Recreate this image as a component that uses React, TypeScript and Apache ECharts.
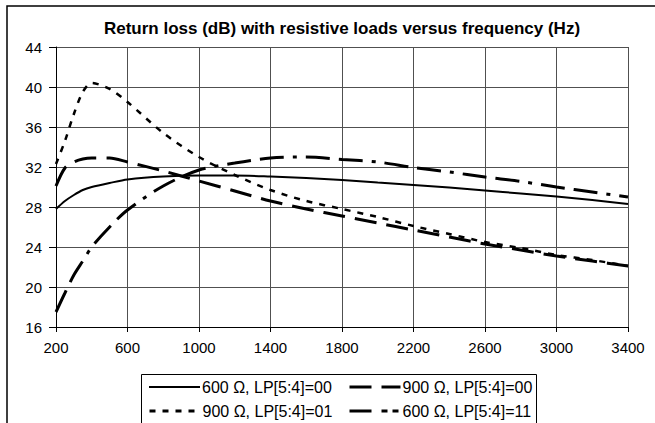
import React, { useEffect, useRef } from "react";
import * as echarts from "echarts";

const TITLE = "Return loss (dB) with resistive loads versus frequency (Hz)";

const freqs = [200, 250, 300, 350, 400, 500, 600, 800, 1000, 1200, 1400, 1600, 1800, 2000, 2200, 2400, 2600, 2800, 3000, 3200, 3400];

const seriesNames = [
  "600 Ω, LP[5:4]=00",
  "900 Ω, LP[5:4]=00",
  "900 Ω, LP[5:4]=01",
  "600 Ω, LP[5:4]=11",
];

const rl600_00 = [27.8, 28.6, 29.2, 29.7, 30.0, 30.4, 30.75, 31.05, 31.15, 31.15, 31.05, 30.9, 30.7, 30.45, 30.2, 29.95, 29.65, 29.35, 29.05, 28.7, 28.3];
const rl900_00 = [30.1, 31.9, 32.5, 32.8, 32.9, 32.9, 32.5, 31.6, 30.6, 29.6, 28.6, 27.8, 27.1, 26.4, 25.7, 25.0, 24.3, 23.7, 23.1, 22.6, 22.1];
const rl900_01 = [32.3, 34.6, 37.3, 39.5, 40.4, 39.8, 38.5, 35.4, 33.0, 31.2, 29.7, 28.6, 27.8, 27.0, 26.1, 25.3, 24.5, 23.9, 23.2, 22.7, 22.1];
const rl600_11 = [17.5, 19.4, 21.2, 22.6, 24.0, 26.0, 27.7, 30.1, 31.7, 32.4, 32.9, 33.0, 32.75, 32.5, 31.95, 31.5, 31.0, 30.55, 30.0, 29.5, 29.0];

const xTicks = [200, 600, 1000, 1400, 1800, 2200, 2600, 3000, 3400];
const yTicks = [16, 20, 24, 28, 32, 36, 40, 44];

const X_OFFSET = xTicks[0];
const FONT = "Liberation Sans, Arial, sans-serif";

export default function App() {
  const ref = useRef<HTMLDivElement>(null);

  useEffect(() => {
    if (!ref.current) return;
    const chart = echarts.init(ref.current, undefined, { renderer: "svg" });

    const allValues = [rl600_00, rl900_00, rl900_01, rl600_11];
    const styles: any[] = [
      { width: 2, type: "solid" },
      { width: 3, type: [22, 10] },
      { width: 2.5, type: [6, 7] },
      { width: 3, type: [24, 9, 24, 9, 4, 9] },
    ];
    const legendStyles: any[] = [
      { width: 2, type: "solid" },
      { width: 3, type: [22, 10] },
      { width: 3, type: [6, 7] },
      { width: 3, type: [22, 10, 6, 5, 6, 10] },
    ];

    const series = allValues.map((vals, i) => ({
      name: seriesNames[i],
      type: "line",
      data: freqs.map((f, j) => [f - X_OFFSET, vals[j]]),
      symbol: "none",
      smooth: 0.3,
      lineStyle: { color: "#000", ...styles[i] },
      itemStyle: { color: "#000" },
      z: 3,
    }));

    const legendPos = [
      { left: 148, top: 378 },
      { left: 348, top: 378 },
      { left: 148, top: 402 },
      { left: 348, top: 402 },
    ];

    const legends = seriesNames.map((n, i) => ({
      data: [n],
      left: legendPos[i].left,
      top: legendPos[i].top,
      padding: 0,
      itemWidth: 51,
      itemHeight: 18,
      itemGap: 0,
      selectedMode: false,
      itemStyle: { color: "rgba(0,0,0,0)", borderWidth: 0, opacity: 0 },
      lineStyle: { color: "#000", ...legendStyles[i] },
      textStyle: {
        fontFamily: FONT,
        fontSize: 16,
        lineHeight: 18,
        color: "#000",
        padding: [0, 0, 0, -3],
      },
    }));

    chart.setOption({
      animation: false,
      backgroundColor: "#fff",
      title: {
        text: TITLE,
        left: 337,
        textAlign: "center",
        top: 15,
        textStyle: { fontFamily: FONT, fontSize: 17, fontWeight: "bold", color: "#000" },
      },
      legend: legends,
      grid: { left: 56, top: 47, width: 572, height: 280, containLabel: false },
      xAxis: {
        type: "value",
        min: 0,
        max: xTicks[xTicks.length - 1] - X_OFFSET,
        interval: xTicks[1] - xTicks[0],
        axisLine: { show: true, lineStyle: { color: "#000", width: 1 } },
        axisTick: { show: true, length: 5, lineStyle: { color: "#000" } },
        axisLabel: {
          margin: 13,
          fontFamily: FONT,
          fontSize: 15,
          color: "#000",
          formatter: (v: number) => String(v + X_OFFSET),
        },
        splitLine: { show: true, lineStyle: { color: "#505050", width: 1 } },
      },
      yAxis: {
        type: "value",
        min: yTicks[0],
        max: yTicks[yTicks.length - 1],
        interval: yTicks[1] - yTicks[0],
        axisLine: { show: true, lineStyle: { color: "#000", width: 1 } },
        axisTick: { show: true, length: 7, lineStyle: { color: "#000" } },
        axisLabel: { margin: 14, fontFamily: FONT, fontSize: 15, color: "#000" },
        splitLine: { show: true, lineStyle: { color: "#505050", width: 1 } },
      },
      graphic: [
        {
          type: "rect",
          shape: { x: 7, y: 6, width: 700, height: 500 },
          style: { fill: "none", stroke: "#000", lineWidth: 1.5 },
          silent: true,
          z: 0,
        },
        {
          type: "rect",
          shape: { x: 141.5, y: 374.5, width: 395, height: 60 },
          style: { fill: "none", stroke: "#000", lineWidth: 1 },
          silent: true,
          z: 0,
        },
      ],
      series,
    });

    return () => chart.dispose();
  }, []);

  return (
    <div
      ref={ref}
      style={{ position: "fixed", left: 0, top: 0, width: 655, height: 423, background: "#fff" }}
    />
  );
}
